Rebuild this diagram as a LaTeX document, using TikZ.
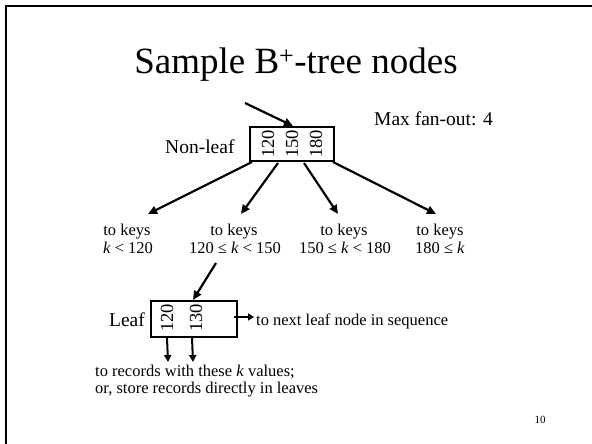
\documentclass[tikz,border=0pt]{standalone}
\usepackage{fontspec}
\setmainfont{Liberation Serif}
\usetikzlibrary{arrows.meta}
\begin{document}
\begin{tikzpicture}[x=1pt,y=-1pt,
  arr/.style={line width=2.2pt,-{Triangle[length=9pt,width=8pt]}},
  sarr/.style={line width=2pt,-{Triangle[length=7pt,width=7pt]}},
  boxnode/.style={draw,line width=2pt,inner sep=0pt},
  keynum/.style={rotate=90,inner sep=0pt,font=\fontsize{18.5}{20}\selectfont},
  lbl/.style={inner sep=0pt,font=\fontsize{16.5}{18}\selectfont},
  big/.style={inner sep=0pt,font=\fontsize{19.5}{22}\selectfont}]
\useasboundingbox (0,0) rectangle (592,444);
\fill[white] (0,0) rectangle (592,444);
% frame
\draw[line width=2pt] (5.7,444) -- (5.7,5.7) -- (592,5.7);
% title
\node[anchor=base,inner sep=0pt,font=\fontsize{37}{40}\selectfont] (title) at (296,74) {Sample B\textsuperscript{+}-tree nodes};
\node[big,anchor=base west] (fan) at (374,125) {Max fan-out: 4};
% non-leaf
\node[big,anchor=base west] (nltxt) at (165,153) {Non-leaf};
\node[boxnode,minimum width=84pt,minimum height=34pt] (nl) at (292,144) {};
\node[keynum] (k1) at (268,144) {120};
\node[keynum] (k2) at (292,144) {150};
\node[keynum] (k3) at (316,144) {180};
\coordinate (in0) at (245,103);
\draw[arr] (in0) -- ([xshift=1pt]nl.north);
% labels
\node[lbl,anchor=base] (l1a) at (127,235) {to keys};
\node[lbl,anchor=base] (l1b) at (128,253) {\textit{k} < 120};
\node[lbl,anchor=base] (l2a) at (234,235) {to keys};
\node[lbl,anchor=base] (l2b) at (235,253) {120 ≤ \textit{k} < 150};
\node[lbl,anchor=base] (l3a) at (344,235) {to keys};
\node[lbl,anchor=base] (l3b) at (345,253) {150 ≤ \textit{k} < 180};
\node[lbl,anchor=base] (l4a) at (440,235) {to keys};
\node[lbl,anchor=base] (l4b) at (440,253) {180 ≤ \textit{k}};
\coordinate (t1) at (148,214);
\coordinate (t2) at (241,214);
\coordinate (t3) at (338,214);
\coordinate (t4) at (436,214);
\draw[arr] ([xshift=3pt]nl.south west) -- (t1);
\draw[arr] ([xshift=29pt,yshift=-1pt]nl.south west) -- (t2);
\draw[arr] ([xshift=55pt,yshift=-1pt]nl.south west) -- (t3);
\draw[arr] ([xshift=-2pt]nl.south east) -- (t4);
% leaf
\node[big,anchor=base east] (lftxt) at (145,326) {Leaf};
\node[boxnode,minimum width=86pt,minimum height=36pt] (lf) at (194,319) {};
\node[keynum] (q1) at (167,318) {120};
\node[keynum] (q2) at (196,318) {130};
\coordinate (in1) at (216,263);
\draw[arr] (in1) -- ([xshift=-1pt]lf.north);
\draw[line width=2pt,-{Triangle[length=6pt,width=7pt]}] ([xshift=-4pt,yshift=2pt]lf.east) -- ([xshift=16pt,yshift=2pt]lf.east);
\node[lbl,anchor=base west] (nexttxt) at (256,325) {to next leaf node in sequence};
\coordinate (d1) at (168,362);
\coordinate (d2) at (193,362);
\draw[sarr] ([xshift=17pt]lf.south west) -- (d1);
\draw[sarr] ([xshift=42pt]lf.south west) -- (d2);
\node[lbl,anchor=base west] (rec1) at (95,376) {to records with these \textit{k} values;};
\node[lbl,anchor=base west] (rec2) at (95,393) {or, store records directly in leaves};
% page number
\node[anchor=base,inner sep=0pt,font=\fontsize{11}{12}\selectfont] (pg) at (540,423) {10};
\end{tikzpicture}
\end{document}
